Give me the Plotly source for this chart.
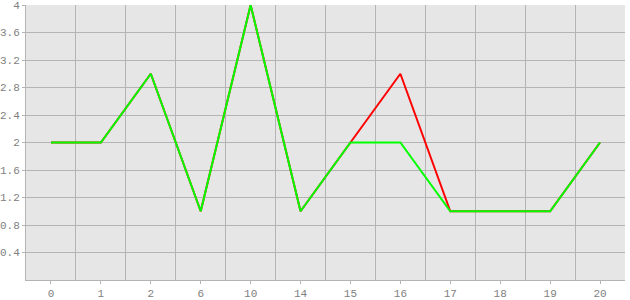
import plotly.graph_objects as go

categories = ["0", "1", "2", "6", "10", "14", "15", "16", "17", "18", "19", "20"]
red_values = [2, 2, 3, 1, 4, 1, 2, 3, 1, 1, 1, 2]
green_values = [2, 2, 3, 1, 4, 1, 2, 2, 1, 1, 1, 2]
y_ticks = [0.4, 0.8, 1.2, 1.6, 2.0, 2.4, 2.8, 3.2, 3.6, 4.0]
y_labels = ["0.4", "0.8", "1.2", "1.6", "2", "2.4", "2.8", "3.2", "3.6", "4"]

idx = list(range(len(categories)))
fig = go.Figure()
fig.add_trace(go.Scatter(x=idx, y=red_values, mode="lines",
                         line=dict(color="#ff0000", width=2)))
fig.add_trace(go.Scatter(x=idx, y=green_values, mode="lines",
                         line=dict(color="#00ff00", width=2)))

grid = "#b4b4b4"
font = dict(family="Liberation Mono", size=11, color="#808080")
fig.update_layout(
    width=630, height=300,
    margin=dict(l=26, r=5, t=5, b=20),
    paper_bgcolor="white", plot_bgcolor="#e6e6e6",
    showlegend=False, font=font,
    xaxis=dict(range=[-0.5, len(categories) - 0.5], tickvals=idx, ticktext=categories,
               showgrid=False, zeroline=False, ticks="outside", ticklen=3,
               tickcolor=grid, showline=True, linecolor=grid, linewidth=1,
               minor=dict(tickvals=[i + 0.5 for i in idx[:-1]], showgrid=True,
                          gridcolor=grid, gridwidth=1, ticks=""),
               ticklabeloverflow="allow", ticklabelstandoff=0,
               automargin=False, fixedrange=True),
    yaxis=dict(range=[0, 4], tickvals=y_ticks, ticktext=y_labels,
               showgrid=True, gridcolor=grid, gridwidth=1, zeroline=False,
               ticks="outside", ticklen=3, tickcolor=grid,
               showline=True, linecolor=grid, linewidth=1,
               ticklabeloverflow="allow", ticklabelstandoff=0,
               automargin=False, fixedrange=True),
)
fig.write_html("out.html", config={"displayModeBar": False})
